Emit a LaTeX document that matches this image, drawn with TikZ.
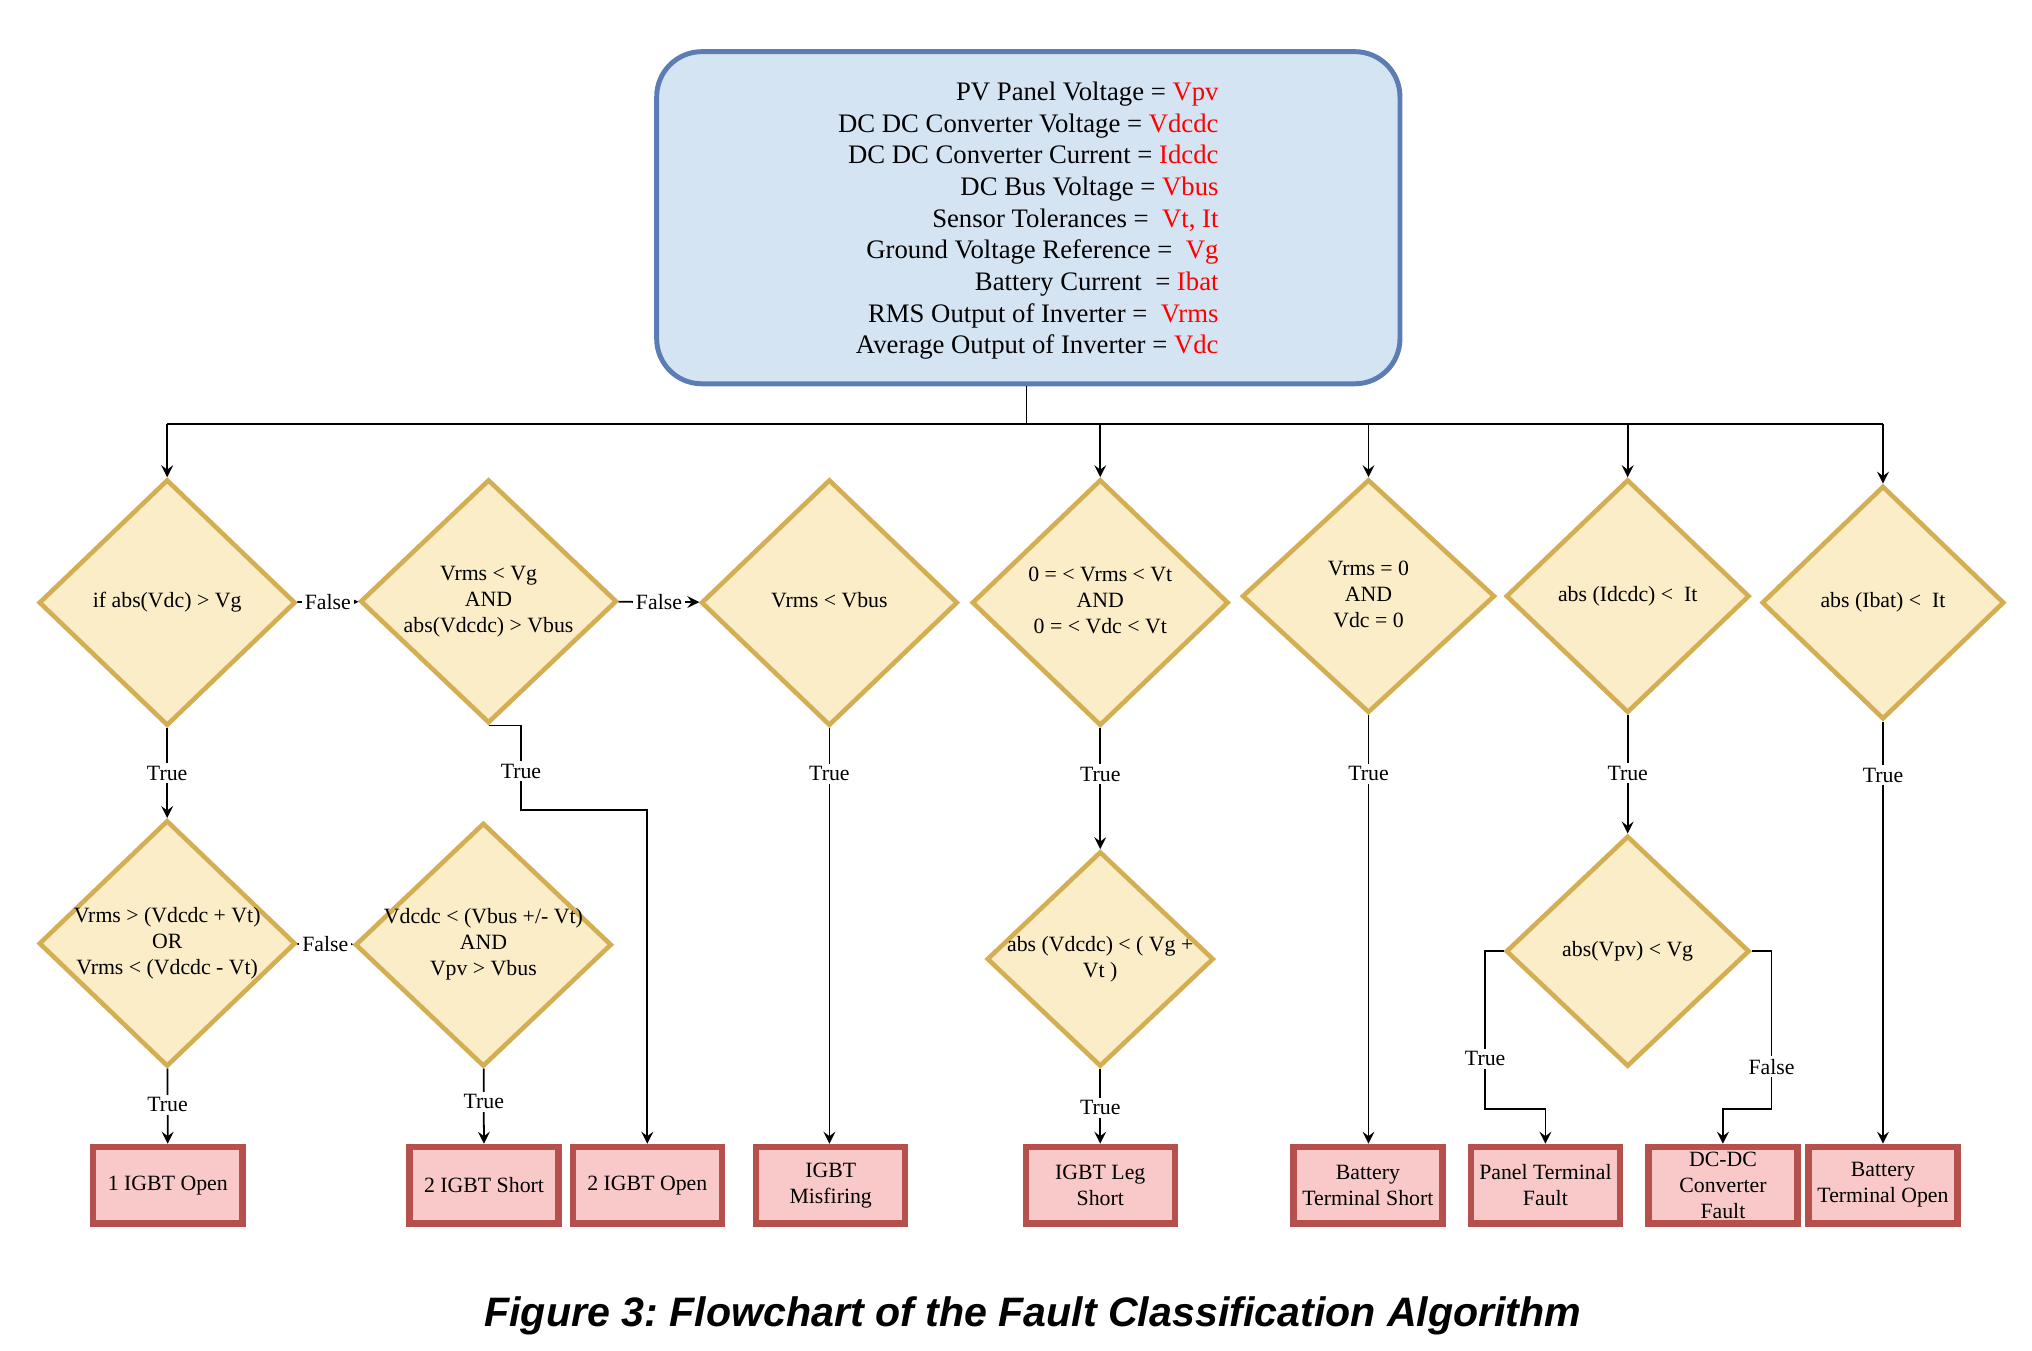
\documentclass[tikz,border=0pt]{standalone}
\usepackage{fontspec}
\setmainfont{Liberation Serif}
\newfontfamily\capfont{Liberation Sans}
\usetikzlibrary{shapes.geometric}
\definecolor{infofill}{HTML}{D5E4F3}
\definecolor{infoline}{HTML}{5B7DB3}
\definecolor{decfill}{HTML}{FBEDC8}
\definecolor{decline}{HTML}{D3AE52}
\definecolor{endfill}{HTML}{F8C9C8}
\definecolor{endline}{HTML}{B5504C}
\frenchspacing
\newcommand{\dtxt}[1]{\makebox[0pt]{\raisebox{-0.6pt}{\begin{tabular}{@{}c@{}}#1\end{tabular}}}}
\begin{document}
\begin{tikzpicture}[x=0.01296cm,y=-0.01296cm,>=stealth,
  info/.style={draw=infoline,fill=infofill,line width=1.4pt,rounded corners=0.45cm,minimum width=7.43cm,minimum height=3.32cm,align=right,font=\fontsize{7.6}{9}\selectfont},
  dec/.style 2 args={diamond,draw=decline,fill=decfill,line width=1.3pt,inner sep=0pt,minimum width=#1,minimum height=#2,font=\fontsize{6.2}{7.4}\selectfont},
  fault/.style={draw=endline,fill=endfill,line width=1.8pt,minimum width=1.49cm,minimum height=0.765cm,inner sep=0pt,align=center,font=\fontsize{6.2}{7.4}\selectfont},
  lbl/.style={fill=white,inner sep=0.8pt,font=\fontsize{6.2}{7.4}\selectfont},
  link/.style={line width=0.5pt}]
\useasboundingbox (0,0) rectangle (1568,1042);
% inputs
\node[info] (vars) at (793.5,168) {\rule{0pt}{7pt}PV Panel Voltage = \textcolor{red}{Vpv}\\
DC DC Converter Voltage = \textcolor{red}{Vdcdc}\\
DC DC Converter Current = \textcolor{red}{Idcdc}\\
DC Bus Voltage = \textcolor{red}{Vbus}\\
Sensor Tolerances = \ \textcolor{red}{Vt, It}\\
Ground Voltage Reference = \ \textcolor{red}{Vg}\\
Battery Current \ = \textcolor{red}{Ibat}\\
RMS Output of Inverter = \ \textcolor{red}{Vrms}\\
Average Output of Inverter = \textcolor{red}{Vdc}};
% first row of checks
\node[dec={2.566cm}{2.462cm}] (d1) at (129,465) {\dtxt{if abs(Vdc) > Vg}};
\node[dec={2.566cm}{2.436cm}] (d2) at (377,464) {\dtxt{Vrms < Vg\\AND\\abs(Vdcdc) > Vbus}};
\node[dec={2.566cm}{2.462cm}] (d3) at (640,465) {\dtxt{Vrms < Vbus}};
\node[dec={2.566cm}{2.462cm}] (d4) at (849,465) {\dtxt{0 = < Vrms < Vt\\AND\\0 = < Vdc < Vt}};
\node[dec={2.527cm}{2.333cm}] (d5) at (1056,460) {\dtxt{Vrms = 0\\AND\\Vdc = 0}};
\node[dec={2.436cm}{2.333cm}] (d6) at (1256,460) {\dtxt{abs (Idcdc) < \ It}};
\node[dec={2.424cm}{2.333cm}] (d7) at (1453,465) {\dtxt{abs (Ibat) < \ It}};
% second row of checks
\node[dec={2.566cm}{2.462cm}] (d1b) at (129,728) {\dtxt{Vrms > (Vdcdc + Vt)\\OR\\Vrms < (Vdcdc - Vt)}};
\node[dec={2.566cm}{2.436cm}] (d2b) at (373,729) {\dtxt{Vdcdc < (Vbus +/- Vt)\\AND\\Vpv > Vbus}};
\node[dec={2.268cm}{2.151cm}] (d4b) at (849,740) {\dtxt{abs (Vdcdc) < ( Vg +\\Vt )}};
\node[dec={2.436cm}{2.307cm}] (d6b) at (1256,734) {\dtxt{abs(Vpv) < Vg}};
% faults
\node[fault] (b1) at (129.5,914.5) {1 IGBT Open};
\node[fault] (b2) at (373.5,914.5) {2 IGBT Short};
\node[fault] (b3) at (499.5,914.5) {2 IGBT Open};
\node[fault] (b4) at (641,914.5) {IGBT\\Misfiring};
\node[fault] (b5) at (849,914.5) {IGBT Leg\\Short};
\node[fault] (b6) at (1055.5,914.5) {Battery\\Terminal Short};
\node[fault] (b7) at (1192.5,914.5) {Panel Terminal\\Fault};
\node[fault] (b8) at (1329.5,914.5) {DC-DC\\Converter\\Fault};
\node[fault] (b9) at (1453,914.5) {Battery\\Terminal Open};
\node[font=\capfont\bfseries\itshape\fontsize{11.7}{14}\selectfont] (cap) at (797,1015) {Figure 3: Flowchart of the Fault Classification Algorithm};
% bus
\coordinate (bus) at (792,327);
\coordinate (t2) at (402,625);
\coordinate (t6l) at (1146,856);
\coordinate (t6r) at (1367,856);
\draw[link] (vars.south -| bus) -- (bus);
\draw[link] (d1.north |- bus) -- (d7.north |- bus);
\foreach \d in {d1,d4,d5,d6,d7}
  \draw[link,->] (\d.north |- bus) -- (\d.north);
% branches
\draw[link,->] (d1) -- node[lbl] {False} (d2);
\draw[link,->] (d2) -- node[lbl] {False} (d3);
\draw[link,->] (d1b) -- node[lbl] {False} (d2b);
\draw[link,->] (d1) -- node[lbl] {True} (d1b);
\draw[link,->] (d4) -- node[lbl,pos=0.38] {True} (d4b);
\draw[link,->] (d6) -- node[lbl,pos=0.49] {True} (d6b);
\draw[link,->] (d2.south) -| node[lbl,pos=0.77] {True} (t2) -| (b3.north);
\draw[link,->] (d3.south) -- node[lbl,pos=0.11] {True} (d3.south |- b4.north);
\draw[link,->] (d5.south) -- node[lbl,pos=0.137] {True} (d5.south |- b6.north);
\draw[link,->] (d7.south) -- node[lbl,pos=0.127] {True} (d7.south |- b9.north);
\draw[link,->] (d1b) -- node[lbl,pos=0.48] {True} (b1);
\draw[link,->] (d2b) -- node[lbl,pos=0.44] {True} (b2);
\draw[link,->] (d4b) -- node[lbl,pos=0.52] {True} (b5);
\draw[link,->] (d6b.west) -| node[lbl,pos=0.84] {True} (t6l) -| (b7.north);
\draw[link,->] (d6b.east) -| node[lbl,pos=0.865] {False} (t6r) -| (b8.north);
\end{tikzpicture}
\end{document}
